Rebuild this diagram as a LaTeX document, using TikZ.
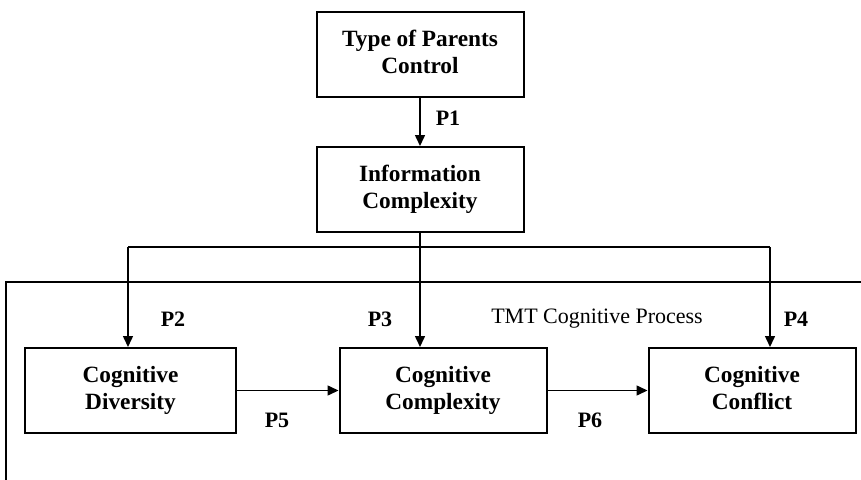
\documentclass[tikz,border=0pt]{standalone}
\usepackage{fontspec}
\setmainfont{Liberation Serif}
\usetikzlibrary{arrows.meta, positioning}

\begin{document}
\begin{tikzpicture}[x=1pt, y=-1pt,
  box/.style={draw, line width=2pt, align=center, inner sep=2pt,
    font=\bfseries\fontsize{23.3}{27}\selectfont, minimum width=207pt, minimum height=85pt},
  lbl/.style={font=\bfseries\fontsize{22}{27}\selectfont, inner sep=0pt},
  arr/.style={line width=1.5pt, -{Triangle[length=11pt, width=10pt]}}]
\clip (0,0) rectangle (861,479);
% boxes
\node[box] (tpc) at (420,54.5) {Type of Parents\\Control\vphantom{y}};
\node[box] (inf) at (420,189.5) {Information\\Complexity};
\node[box, minimum width=211pt] (div) at (130.5,390.5) {Cognitive\\Diversity};
\node[box] (cpx) at (443,390.5) {Cognitive\\Complexity};
\node[box] (cfl) at (752,390.5) {Cognitive\\Conflict\vphantom{y}};
% frame of the team process
\draw[line width=1.5pt] (6,500) |- (880,282);
% connectors
\coordinate (bus2) at (128,247);
\coordinate (bus4) at (770,247);
\draw[arr] (tpc.south) -- (inf.north);
\draw[line width=1.5pt] (bus2) -- (bus4);
\draw[arr] (bus2) -- (bus2 |- div.north);
\draw[arr] (inf.south) -- (inf.south |- cpx.north);
\draw[arr] (bus4) -- (bus4 |- cfl.north);
\draw[arr] (div.east) -- (cpx.west);
\draw[arr] (cpx.east) -- (cfl.west);
% labels
\node[lbl] (p1) at (448,118) {P1};
\node[lbl] (p2) at (173,319) {P2};
\node[lbl] (p3) at (380,319) {P3};
\node[lbl] (p4) at (796,319) {P4};
\node[lbl] (p5) at (277,420) {P5};
\node[lbl] (p6) at (590,420) {P6};
\node[lbl, font=\fontsize{22}{27}\selectfont] (tmt) at (597,319) {TMT Cognitive Process};
\end{tikzpicture}
\end{document}
